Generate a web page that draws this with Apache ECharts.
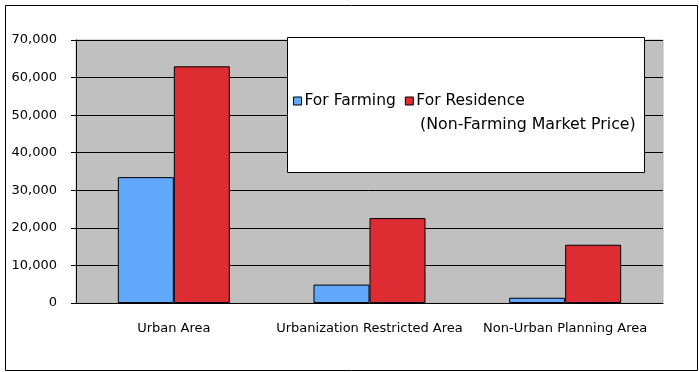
<!DOCTYPE html>
<html><head><meta charset="utf-8">
<script src="https://cdn.jsdelivr.net/npm/echarts@6/dist/echarts.min.js"></script>
<style>html,body{margin:0;padding:0;background:#fff}#c{width:699px;height:372px}</style>
</head><body><div id="c"></div>
<script>
const categories = ['Urban Area', 'Urbanization Restricted Area', 'Non-Urban Planning Area'];
const farming = [33500, 4900, 1400];
const residence = [63000, 22600, 15500];
const seriesNames = ['For Farming', 'For Residence'];
const residenceNote = '(Non-Farming Market Price)';
const yMin = 0, yMax = 70000, yStep = 10000;

const FONT = 'DejaVu Sans';
const chart = echarts.init(document.getElementById('c'), null, {renderer: 'canvas'});
chart.setOption({
  animation: false,
  backgroundColor: '#fff',
  textStyle: {fontFamily: FONT},
  grid: {left: 76, top: 40, right: 36, bottom: 69, show: true, backgroundColor: '#c0c0c0', borderColor: '#b4b4b4', borderWidth: 1},
  graphic: [
    {type: 'rect', left: 3, top: 3, z: -1, shape: {width: 692, height: 365}, style: {fill: 'none', stroke: '#000', lineWidth: 1}},
    {type: 'rect', left: 287, top: 37, z: 50, shape: {width: 357, height: 135}, style: {fill: '#fff', stroke: '#000', lineWidth: 1}},
    {type: 'text', left: 420, top: 117, z: 60, style: {text: residenceNote, font: '15.8px "DejaVu Sans"', fill: '#000'}}
  ],
  legend: {
    z: 60,
    left: 293, top: 93,
    itemWidth: 8, itemHeight: 8, itemGap: 9,
    icon: 'rect',
    padding: 0,
    itemStyle: {borderColor: '#000', borderWidth: 1},
    textStyle: {fontFamily: FONT, fontSize: 15.5, color: '#000', padding: [0, 0, 0, -2]},
    data: seriesNames
  },
  xAxis: {
    type: 'category', data: categories,
    axisLine: {lineStyle: {color: '#000', width: 1}},
    axisTick: {length: 5, lineStyle: {color: '#000'}},
    axisLabel: {color: '#000', fontSize: 13, margin: 19, interval: 0, fontFamily: FONT}
  },
  yAxis: {
    type: 'value', min: yMin, max: yMax, interval: yStep,
    axisLine: {show: true, lineStyle: {color: '#000', width: 1}},
    axisTick: {show: true, length: 5, lineStyle: {color: '#000'}},
    splitLine: {lineStyle: {color: '#000', width: 1}},
    axisLabel: {color: '#000', fontSize: 13, margin: 19, fontFamily: FONT,
      formatter: v => v.toLocaleString('en-US')}
  },
  series: [
    {name: seriesNames[0], type: 'bar', data: farming, barWidth: 56, barGap: '0%',
      itemStyle: {color: '#62a8fd', borderColor: '#000', borderWidth: 1}},
    {name: seriesNames[1], type: 'bar', data: residence, barWidth: 56, barGap: '0%',
      itemStyle: {color: '#de2c33', borderColor: '#000', borderWidth: 1}}
  ]
});
</script></body></html>
